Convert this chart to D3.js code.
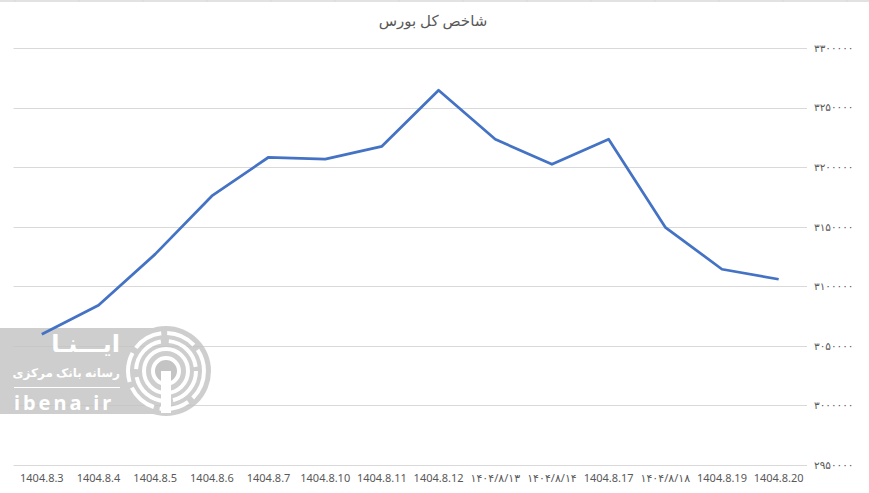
<!DOCTYPE html>
<html>
<head>
<meta charset="utf-8">
<script src="https://cdn.jsdelivr.net/npm/d3@7"></script>
<style>
  body { margin: 0; background: #fff; }
  svg text { font-family: "Noto Sans", "DejaVu Sans", sans-serif; }
</style>
</head>
<body>
<div id="chart"></div>
<script>
// categories (x axis labels)
var dates = ["1404.8.3", "1404.8.4", "1404.8.5", "1404.8.6", "1404.8.7", "1404.8.10",
    "1404.8.11", "1404.8.12", "۱۴۰۴/۸/۱۳", "۱۴۰۴/۸/۱۴", "1404.8.17", "۱۴۰۴/۸/۱۸",
    "1404.8.19", "1404.8.20"];

// index values
var indexValues = [3059700, 3084000, 3127000, 3175800, 3208300, 3206800, 3217500,
    3264500, 3223400, 3202400, 3223400, 3149500, 3114300, 3105900];

// y ticks
var yTicks = [2950000, 3000000, 3050000, 3100000, 3150000, 3200000, 3250000, 3300000];

var title = "شاخص کل بورس";

var width = 869, height = 493;
var margin = { top: 48, right: 62, bottom: 28, left: 13.5 };

var svg = d3.select("#chart")
    .append("svg")
    .attr("width", width)
    .attr("height", height);

// spreadsheet cell lines peeking at the top
svg.append("line")
    .attr("x1", 0).attr("x2", width)
    .attr("y1", 1).attr("y2", 1)
    .attr("stroke", "#d9d9d9").attr("stroke-width", 1.5);
d3.range(15, width, 64).forEach(function(x) {
    svg.append("line")
        .attr("x1", x).attr("x2", x)
        .attr("y1", 0).attr("y2", 2)
        .attr("stroke", "#d9d9d9");
});

var xScale = d3.scaleBand()
    .domain(dates)
    .range([margin.left, width - margin.right]);

var yScale = d3.scaleLinear()
    .domain([2950000, 3300000])
    .range([height - margin.bottom, margin.top]);

// persian digits for the y labels
var fa = "۰۱۲۳۴۵۶۷۸۹";
function toPersian(n) {
    return String(n).replace(/\d/g, function(c) { return fa[+c]; });
}

// gridlines
svg.append("g")
    .selectAll("line")
    .data(yTicks)
    .enter()
    .append("line")
    .attr("x1", margin.left)
    .attr("x2", width - margin.right)
    .attr("y1", d => Math.round(yScale(d)) + 0.5)
    .attr("y2", d => Math.round(yScale(d)) + 0.5)
    .attr("stroke", "#d9d9d9")
    .attr("stroke-width", 1);

// y axis on the right
var yAxis = d3.axisRight(yScale)
    .tickValues(yTicks)
    .tickSize(0)
    .tickPadding(7)
    .tickFormat(toPersian);

svg.append("g")
    .attr("class", "y-axis")
    .attr("transform", "translate(" + (width - margin.right) + ",0)")
    .call(yAxis)
    .call(g => g.select(".domain").remove())
    .selectAll("text")
    .attr("fill", "#595959")
    .style("font-size", "10.5px");

// x axis
var xAxis = d3.axisBottom(xScale)
    .tickSize(0)
    .tickPadding(9);

svg.append("g")
    .attr("class", "x-axis")
    .attr("transform", "translate(0," + (height - margin.bottom) + ")")
    .call(xAxis)
    .call(g => g.select(".domain").remove())
    .selectAll("text")
    .attr("fill", "#595959")
    .style("font-size", "11px");

// watermark (ibena)
var wm = svg.append("g").attr("opacity", 0.82);
wm.append("rect")
    .attr("x", 0).attr("y", 328)
    .attr("width", 170).attr("height", 86)
    .attr("fill", "#c4c4c4");
wm.append("circle")
    .attr("cx", 166).attr("cy", 371)
    .attr("r", 45)
    .attr("fill", "#c4c4c4");
var wmWhite = svg.append("g");
[38, 30, 22].forEach(function(r, i) {
    wmWhite.append("circle")
        .attr("cx", 166).attr("cy", 371)
        .attr("r", r)
        .attr("fill", "none")
        .attr("stroke", "#fff")
        .attr("stroke-width", 4)
        .attr("stroke-dasharray", i == 0 ? "30 6" : (i == 1 ? "40 8" : "none"));
});
wmWhite.append("circle")
    .attr("cx", 166).attr("cy", 371).attr("r", 13)
    .attr("fill", "#c4c4c4").attr("stroke", "#fff").attr("stroke-width", 4);
wmWhite.append("rect")
    .attr("x", 161).attr("y", 371).attr("width", 10).attr("height", 42)
    .attr("fill", "#fff");
wmWhite.append("text")
    .attr("x", 120).attr("y", 352)
    .attr("text-anchor", "end")
    .attr("fill", "#fff")
    .style("font-size", "24px").style("font-weight", "bold")
    .text("ایـــنـا");
wmWhite.append("text")
    .attr("x", 120).attr("y", 377)
    .attr("text-anchor", "end")
    .attr("fill", "#fff")
    .style("font-size", "12px").style("font-weight", "bold")
    .text("رسانه بانک مرکزی");
wmWhite.append("line")
    .attr("x1", 14).attr("x2", 120)
    .attr("y1", 387.5).attr("y2", 387.5)
    .attr("stroke", "#fff");
wmWhite.append("text")
    .attr("x", 14).attr("y", 410)
    .attr("fill", "#fff")
    .style("font-size", "20px").style("font-weight", "bold")
    .style("letter-spacing", "3px")
    .text("ibena.ir");

// the line
var line = d3.line()
    .x((d, i) => xScale(dates[i]) + xScale.bandwidth() / 2)
    .y(d => yScale(d));

svg.append("path")
    .datum(indexValues)
    .attr("fill", "none")
    .attr("stroke", "#4472c4")
    .attr("stroke-width", 2.75)
    .attr("stroke-linejoin", "round")
    .attr("d", line);

// title
svg.append("text")
    .attr("x", 433)
    .attr("y", 26)
    .attr("text-anchor", "middle")
    .attr("fill", "#595959")
    .style("font-size", "15px")
    .text(title);
</script>
</body>
</html>
